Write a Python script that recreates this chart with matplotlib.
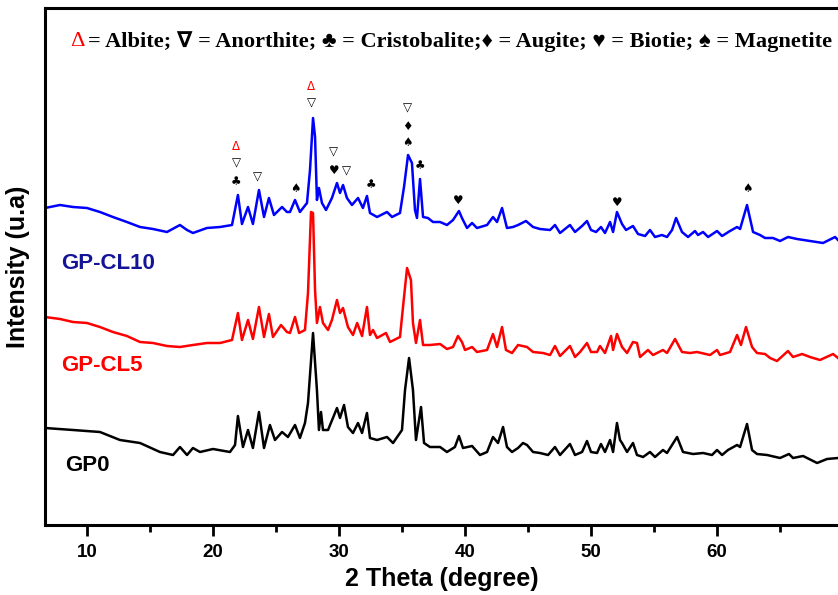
import matplotlib
matplotlib.use("Agg")
import matplotlib.pyplot as plt

# XRD patterns (2 theta in degree, intensity in arbitrary units, already stacked)
gp0 = [(6.67, 97), (8.89, 95), (11.03, 93), (12.62, 85), (14.21, 82), (15.79, 73), (16.83, 70),
       (17.38, 78), (17.94, 70), (18.41, 77), (18.97, 73), (20.0, 76), (21.35, 73), (21.75, 80),
       (21.98, 109), (22.38, 78), (22.78, 95), (23.17, 77), (23.65, 113), (24.05, 77), (24.52, 100),
       (24.92, 85), (25.48, 93), (25.95, 88), (26.51, 100), (26.9, 87), (27.3, 102), (27.54, 122),
       (27.94, 192), (28.25, 135), (28.41, 95), (28.57, 113), (28.73, 95), (29.13, 95), (29.52, 107),
       (29.84, 117), (30.08, 107), (30.4, 120), (30.71, 98), (31.11, 92), (31.51, 102), (31.83, 92),
       (32.22, 112), (32.46, 87), (33.02, 85), (33.81, 88), (34.29, 82), (35.0, 95), (35.24, 135),
       (35.56, 167), (35.87, 135), (36.11, 85), (36.51, 118), (36.75, 82), (37.22, 78), (38.02, 78),
       (38.57, 73), (39.2, 78), (39.52, 89), (39.84, 77), (40.56, 79), (41.19, 70), (41.75, 73),
       (42.22, 88), (42.62, 82), (43.02, 98), (43.33, 78), (43.73, 73), (44.21, 77), (44.6, 82),
       (44.92, 80), (45.4, 73), (45.95, 72), (46.59, 70), (47.14, 78), (47.54, 70), (48.33, 81),
       (48.73, 70), (49.29, 73), (49.68, 84), (50.0, 73), (50.48, 72), (50.79, 81), (51.11, 73),
       (51.51, 85), (51.75, 73), (52.06, 102), (52.3, 85), (52.46, 82), (52.86, 73), (53.33, 82),
       (53.65, 70), (54.13, 68), (54.68, 73), (55.08, 68), (55.71, 75), (56.03, 72), (56.83, 88),
       (57.3, 73), (58.1, 71), (58.89, 72), (59.6, 70), (60.0, 75), (60.4, 70), (60.87, 75),
       (61.59, 80), (61.83, 78), (62.38, 101), (62.78, 75), (63.17, 71), (63.97, 70), (65.0, 67),
       (65.71, 71), (66.03, 67), (66.83, 69), (67.94, 62), (68.73, 66), (69.6, 67)]

gp_cl5 = [(6.67, 208), (7.86, 206), (8.89, 203), (10.0, 202), (11.03, 198), (12.06, 193), (13.17, 189),
          (14.21, 183), (15.24, 182), (16.35, 179), (17.38, 178), (18.41, 180), (19.52, 182), (20.56, 182),
          (21.51, 185), (21.98, 212), (22.3, 185), (22.78, 205), (23.17, 186), (23.65, 218), (24.05, 188),
          (24.44, 211), (24.76, 188), (25.4, 200), (25.87, 193), (26.11, 192), (26.51, 208), (26.83, 192),
          (27.3, 195), (27.54, 232), (27.78, 313), (27.94, 312), (28.1, 235), (28.25, 202), (28.49, 218),
          (28.73, 202), (29.13, 195), (29.44, 205), (29.84, 225), (30.08, 212), (30.32, 217), (30.71, 198),
          (31.11, 190), (31.44, 202), (31.83, 189), (32.22, 218), (32.46, 190), (32.7, 195), (33.02, 187),
          (33.73, 192), (34.05, 183), (34.84, 188), (35.08, 218), (35.4, 257), (35.71, 245), (35.87, 202),
          (36.11, 182), (36.43, 205), (36.67, 180), (37.22, 180), (38.02, 181), (38.57, 176), (39.05, 178),
          (39.44, 189), (39.76, 183), (40.0, 175), (40.56, 178), (40.95, 173), (41.75, 175), (42.22, 191),
          (42.54, 178), (42.94, 198), (43.25, 175), (43.73, 172), (44.21, 180), (44.92, 178), (45.4, 173),
          (46.19, 172), (46.75, 170), (47.14, 179), (47.54, 169), (48.33, 179), (48.73, 168), (49.13, 173),
          (49.68, 182), (50.0, 173), (50.48, 173), (50.71, 179), (51.11, 172), (51.59, 189), (51.75, 175),
          (52.06, 191), (52.46, 178), (52.86, 172), (53.33, 183), (53.65, 182), (53.89, 168), (54.52, 175),
          (54.92, 170), (55.71, 175), (56.03, 172), (56.67, 186), (57.22, 173), (57.86, 172), (58.41, 173),
          (59.44, 170), (60.0, 175), (60.24, 170), (61.03, 173), (61.59, 190), (61.9, 180), (62.3, 198),
          (62.78, 178), (63.17, 172), (63.81, 171), (64.21, 167), (64.76, 164), (65.63, 174), (66.03, 168),
          (66.75, 171), (67.38, 168), (68.17, 165), (69.21, 171), (69.6, 167)]

gp_cl10 = [(6.67, 317), (7.86, 320), (8.89, 318), (10.0, 317), (11.03, 313), (12.06, 308), (13.17, 303),
           (14.21, 298), (15.24, 296), (16.35, 293), (17.38, 300), (17.94, 295), (18.41, 292), (19.52, 297),
           (20.56, 298), (21.51, 300), (21.98, 330), (22.3, 301), (22.78, 318), (23.17, 301), (23.65, 335),
           (24.05, 308), (24.44, 327), (24.84, 310), (25.48, 318), (25.87, 313), (26.11, 313), (26.51, 325),
           (26.9, 313), (27.46, 322), (27.7, 355), (27.94, 407), (28.1, 388), (28.25, 325), (28.41, 337),
           (28.65, 322), (28.97, 315), (29.44, 327), (29.84, 342), (30.08, 332), (30.32, 340), (30.63, 327),
           (31.03, 320), (31.51, 327), (31.9, 317), (32.22, 329), (32.46, 312), (33.02, 308), (33.81, 313),
           (34.21, 308), (34.84, 312), (35.16, 338), (35.48, 370), (35.79, 362), (36.03, 315), (36.19, 307),
           (36.43, 346), (36.67, 308), (37.06, 307), (37.46, 303), (38.02, 303), (38.57, 300), (39.05, 305),
           (39.52, 314), (39.76, 307), (40.16, 297), (40.56, 302), (40.95, 297), (41.75, 300), (42.22, 308),
           (42.54, 303), (42.94, 317), (43.33, 297), (43.81, 298), (44.21, 300), (44.84, 304), (45.4, 298),
           (45.95, 296), (46.75, 295), (47.14, 300), (47.54, 292), (48.33, 300), (48.73, 293), (49.29, 299),
           (49.68, 304), (50.0, 295), (50.4, 293), (50.79, 298), (51.11, 292), (51.51, 303), (51.75, 293),
           (52.06, 313), (52.46, 301), (52.78, 295), (53.33, 299), (53.73, 291), (54.29, 289), (54.68, 295),
           (55.08, 288), (55.63, 290), (56.03, 288), (56.43, 295), (56.75, 307), (57.22, 293), (57.7, 288),
           (58.25, 294), (58.49, 290), (58.89, 293), (59.29, 288), (60.0, 294), (60.4, 289), (61.03, 294),
           (61.59, 298), (61.83, 296), (62.38, 320), (62.86, 293), (63.41, 290), (63.81, 287), (64.44, 287),
           (65.0, 284), (65.63, 288), (66.35, 286), (67.38, 284), (68.41, 282), (69.37, 288), (69.6, 285)]

# phase marks above the GP-CL10 peaks: (2theta, height, symbol, colour)
marks = [(21.83, 378, "Δ", "red"), (21.83, 362, "▽", "black"), (21.83, 343, "♣", "black"),
         (23.57, 348, "▽", "black"), (26.51, 337, "♠", "black"),
         (27.78, 439, "Δ", "red"), (27.78, 422, "▽", "black"),
         (29.6, 373, "▽", "black"), (29.6, 355, "♥", "black"), (30.63, 354, "▽", "black"),
         (32.54, 340, "♣", "black"),
         (35.4, 417, "▽", "black"), (35.4, 398, "♦", "black"), (35.4, 382, "♠", "black"),
         (36.43, 359, "♣", "black"), (39.44, 325, "♥", "black"), (52.06, 323, "♥", "black"),
         (62.38, 337, "♠", "black")]

sans = ["Liberation Sans", "DejaVu Sans"]
serif = ["Liberation Serif", "DejaVu Sans"]

fig = plt.figure(figsize=(8.38, 5.95), dpi=100)
ax = fig.add_axes([45 / 838, 1 - 525 / 595, 1 - 45 / 838, 517 / 595])

for data, color in [(gp0, "black"), (gp_cl5, "#ff0000"), (gp_cl10, "#0000ff")]:
    x, y = zip(*data)
    ax.plot(x, y, color=color, lw=1.8)

for x, y, s, c in marks:
    ax.text(x, y, s, color=c, ha="center", va="center", fontsize=8.5, family="DejaVu Sans")

ax.text(0.02, 0.505, "GP-CL10", transform=ax.transAxes, color="#141496", fontsize=16,
        fontweight="bold", family=sans, va="center")
ax.text(0.02, 0.308, "GP-CL5", transform=ax.transAxes, color="#ff0000", fontsize=16,
        fontweight="bold", family=sans, va="center")
ax.text(0.025, 0.115, "GP0", transform=ax.transAxes, color="black", fontsize=16,
        fontweight="bold", family=sans, va="center")

ax.set_xlim(6.67, 69.6)
ax.set_ylim(0, 517)
ax.set_xticks([10, 20, 30, 40, 50, 60])
ax.set_xticks([15, 25, 35, 45, 55, 65], minor=True)
ax.set_yticks([])
ax.tick_params(axis="x", which="major", direction="out", length=8, width=2, pad=6)
ax.tick_params(axis="x", which="minor", direction="out", length=5, width=2)
for lab in ax.get_xticklabels():
    lab.set_fontfamily(sans)
    lab.set_fontweight("bold")
    lab.set_fontsize(13.5)
for side in ["left", "bottom", "top"]:
    ax.spines[side].set_linewidth(2.2)
ax.spines["right"].set_visible(False)

ax.set_xlabel("2 Theta (degree)", fontsize=18, fontweight="bold", family=sans, labelpad=4)
ax.set_ylabel("Intensity (u.a)", fontsize=18, fontweight="bold", family=sans, labelpad=11)

# phase key across the top
fig.text(70 / 838, 1 - 42 / 595, "Δ", color="red", fontsize=16.1, family=serif, va="center")
fig.text(88 / 838, 1 - 42 / 595,
         "= Albite; ∇ = Anorthite; ♣ = Cristobalite;♦ = Augite; ♥ = Biotie; ♠ = Magnetite",
         color="black", fontsize=16.1, fontweight="bold", family=serif, va="center")

fig.savefig("out.png", dpi=100)
